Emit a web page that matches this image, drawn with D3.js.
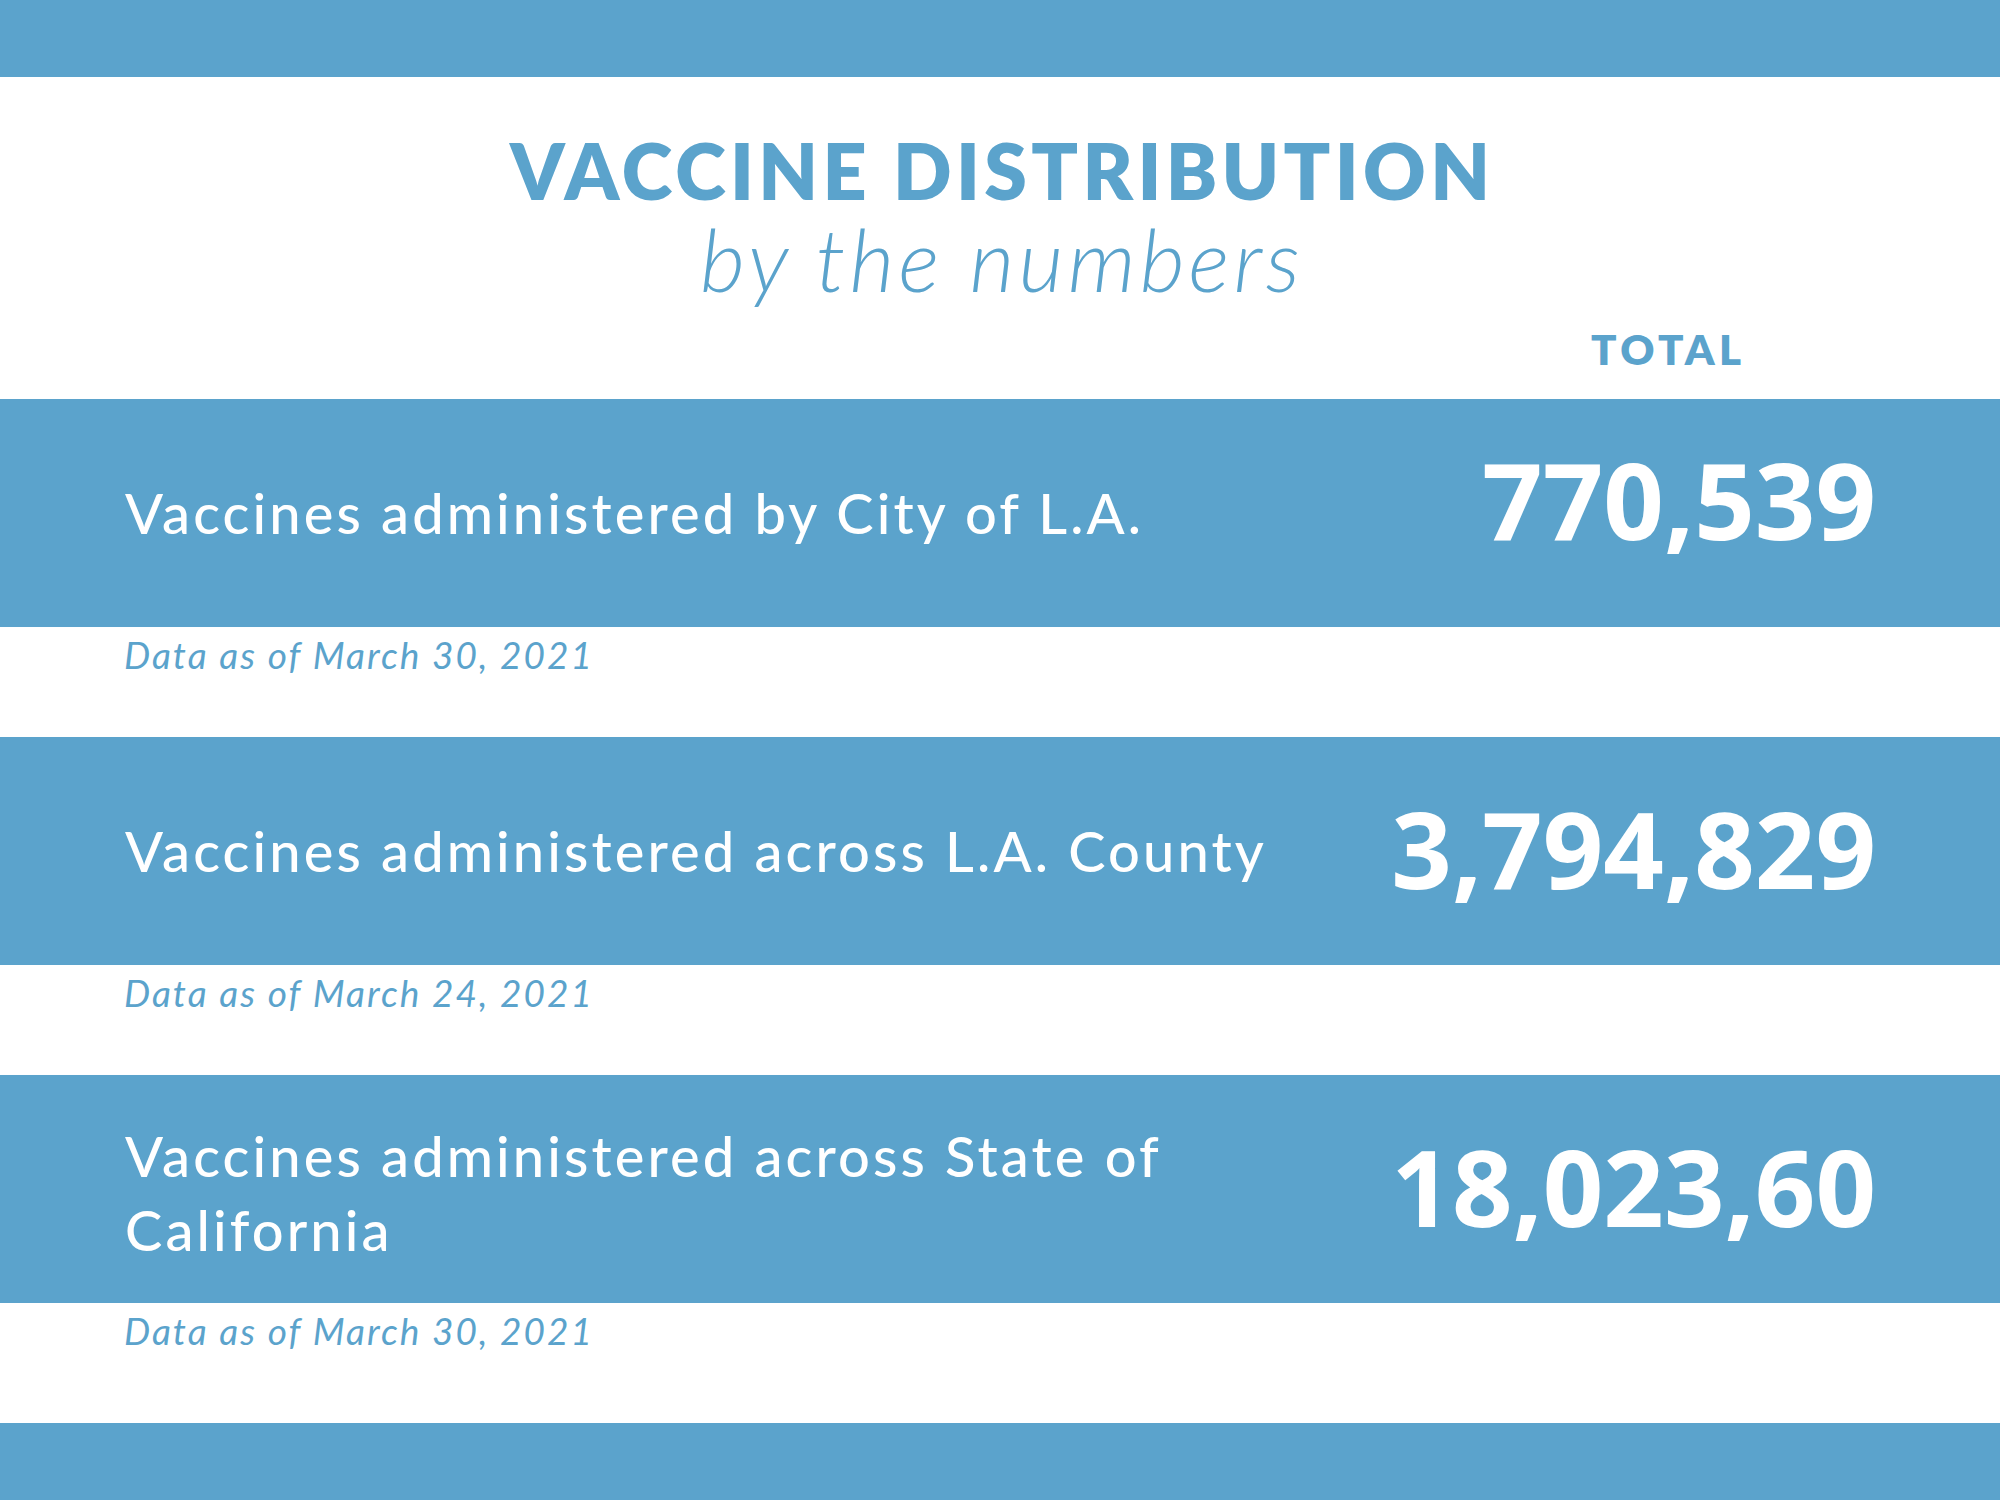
<!DOCTYPE html>
<html>
<head>
<meta charset="utf-8">
<script src="https://cdn.jsdelivr.net/npm/d3@7"></script>
<style>
  html, body { margin: 0; padding: 0; background: #ffffff; }
  svg { display: block; }
</style>
</head>
<body>
<div id="chart"></div>
<script>
// ---------- data ----------
const categories = [
  "Vaccines administered by City of L.A.",
  "Vaccines administered across L.A. County",
  "Vaccines administered across State of California"
];
const totals = ["770,539", "3,794,829", "18,023,60"];
const asOfDates = [
  "Data as of March 30, 2021",
  "Data as of March 24, 2021",
  "Data as of March 30, 2021"
];
const titleText = "VACCINE DISTRIBUTION";
const subtitleText = "by the numbers";
const columnHeader = "TOTAL";

// ---------- layout ----------
const W = 2000, H = 1500;
const BLUE = "#5ba3cc";
const SANS = "Lato, 'Open Sans', 'Noto Sans', sans-serif";
const NUM = "'Open Sans', 'Noto Sans', sans-serif";

const svg = d3.select("#chart").append("svg")
  .attr("width", W).attr("height", H)
  .attr("viewBox", `0 0 ${W} ${H}`);

svg.append("rect").attr("width", W).attr("height", H).attr("fill", "#fff");

// top & bottom bars
svg.append("rect").attr("x", 0).attr("y", 0).attr("width", W).attr("height", 77).attr("fill", BLUE);
svg.append("rect").attr("x", 0).attr("y", 1423).attr("width", W).attr("height", H - 1423).attr("fill", BLUE);

// title
svg.append("text")
  .attr("x", 1000).attr("y", 200)
  .attr("text-anchor", "middle")
  .attr("font-family", SANS).attr("font-weight", 800)
  .attr("font-size", 77)
  .attr("textLength", 980).attr("lengthAdjust", "spacing")
  .attr("fill", BLUE)
  .text(titleText);

svg.append("text")
  .attr("x", 1000).attr("y", 292)
  .attr("text-anchor", "middle")
  .attr("font-family", SANS).attr("font-weight", 300).attr("font-style", "italic")
  .attr("font-size", 87)
  .attr("textLength", 600).attr("lengthAdjust", "spacing")
  .attr("fill", BLUE)
  .text(subtitleText);

svg.append("text")
  .attr("x", 1666).attr("y", 365)
  .attr("text-anchor", "middle")
  .attr("font-family", SANS).attr("font-weight", 800)
  .attr("font-size", 42)
  .attr("textLength", 150).attr("lengthAdjust", "spacing")
  .attr("fill", BLUE)
  .text(columnHeader);

// band scale for rows
const y = d3.scaleBand()
  .domain(categories)
  .range([399, 1303])
  .paddingInner(0.3254)
  .paddingOuter(0);

const rows = svg.append("g").selectAll("g.row")
  .data(categories.map((c, i) => ({ label: c, total: totals[i], date: asOfDates[i] })))
  .join("g").attr("class", "row");

rows.append("rect")
  .attr("x", 0).attr("width", W)
  .attr("y", d => y(d.label))
  .attr("height", y.bandwidth())
  .attr("fill", BLUE);

// labels with wrapping
const LABEL_SIZE = 56, LINE_H = 74, WRAP_W = 1200, LABEL_X = 125;
const probe = svg.append("text").attr("font-family", SANS).attr("font-weight", 500)
  .attr("font-size", LABEL_SIZE).text(categories[0]);
const baseW = probe.node().getComputedTextLength();
probe.remove();
const labelLS = (1016 - baseW) / (categories[0].length - 1);

function measure(str) {
  const t = svg.append("text").attr("font-family", SANS).attr("font-weight", 500)
    .attr("font-size", LABEL_SIZE).attr("letter-spacing", labelLS).text(str);
  const w = t.node().getComputedTextLength();
  t.remove();
  return w;
}
function wrap(str) {
  const words = str.split(" ");
  const lines = [];
  let cur = "";
  words.forEach(w => {
    const test = cur ? cur + " " + w : w;
    if (cur && measure(test) > WRAP_W) { lines.push(cur); cur = w; }
    else cur = test;
  });
  if (cur) lines.push(cur);
  return lines;
}

rows.each(function(d, i) {
  const g = d3.select(this);
  const lines = wrap(d.label);
  const cy = y(d.label) + y.bandwidth() / 2;
  const first = cy + 21 - (lines.length - 1) * LINE_H / 2 + (lines.length > 1 ? 4 : 0);
  const t = g.append("text")
    .attr("font-family", SANS).attr("font-weight", 500)
    .attr("font-size", LABEL_SIZE)
    .attr("letter-spacing", labelLS)
    .attr("fill", "#ffffff");
  lines.forEach((ln, k) => {
    t.append("tspan").attr("x", LABEL_X).attr("y", first + k * LINE_H).text(ln);
  });

  // total number
  g.append("text")
    .attr("x", 1876).attr("y", cy + (i === 0 ? 27 : 38))
    .attr("text-anchor", "end")
    .attr("font-family", NUM).attr("font-weight", 700)
    .attr("font-size", 106)
    .attr("fill", "#ffffff")
    .text(d.total);
});

// dates (italic, under bands)
const DATE_SIZE = 37;
const dprobe = svg.append("text").attr("font-family", SANS).attr("font-style", "italic")
  .attr("font-weight", 400).attr("font-size", DATE_SIZE).text(asOfDates[0]);
const dW = dprobe.node().getComputedTextLength();
dprobe.remove();
const dateLS = (468 - dW) / (asOfDates[0].length - 1);

rows.append("text")
  .attr("x", 124)
  .attr("y", d => y(d.label) + y.bandwidth() + 42)
  .attr("font-family", SANS).attr("font-style", "italic").attr("font-weight", 400)
  .attr("font-size", DATE_SIZE)
  .attr("letter-spacing", dateLS)
  .attr("fill", BLUE)
  .text(d => d.date);
</script>
</body>
</html>
